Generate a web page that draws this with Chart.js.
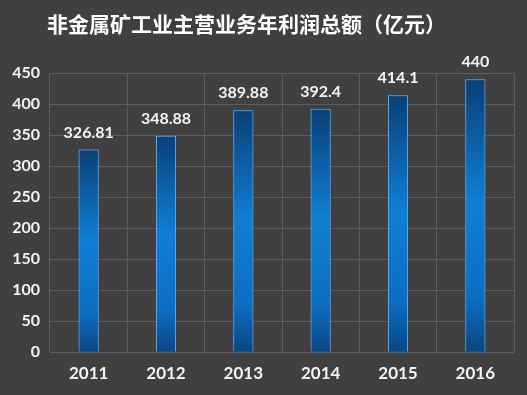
<!DOCTYPE html>
<html>
<head>
<meta charset="utf-8">
<script src="https://cdn.jsdelivr.net/npm/chart.js@4/dist/chart.umd.min.js"></script>
<style>
  html, body { margin: 0; padding: 0; background: #404040; }
  #wrap { width: 527px; height: 395px; position: relative; }
</style>
</head>
<body>
<div id="wrap"><canvas id="chart"></canvas></div>
<script>
// data
const chartTitle = '非金属矿工业主营业务年利润总额（亿元）';
const years = ['2011', '2012', '2013', '2014', '2015', '2016'];
const profits = [326.81, 348.88, 389.88, 392.4, 414.1, 440];
const yTicks = [0, 50, 100, 150, 200, 250, 300, 350, 400, 450];

const textColor = '#f4f4f4';
const gridColor = '#5c5c5c';

// per-bar vertical gradient, dark at the ends and bright in the middle
function barFill(ctx) {
  const chart = ctx.chart;
  if (!chart.chartArea || ctx.parsed == null) return '#0a6cc0';
  const y = chart.scales.y;
  const top = y.getPixelForValue(ctx.parsed.y);
  const bottom = y.getPixelForValue(0);
  const g = chart.ctx.createLinearGradient(0, top, 0, bottom);
  g.addColorStop(0, '#0b3f76');
  g.addColorStop(0.45, '#0f7fd6');
  g.addColorStop(0.8, '#0c6ec4');
  g.addColorStop(1, '#0a4681');
  return g;
}

const glowPlugin = {
  id: 'glow',
  beforeDatasetsDraw(chart) {
    const c = chart.ctx;
    c.save();
    c.shadowColor = 'rgba(60,150,240,0.85)';
    c.shadowBlur = 9;
  },
  afterDatasetsDraw(chart) {
    chart.ctx.restore();
  }
};

const labelsPlugin = {
  id: 'valueLabels',
  afterDatasetsDraw(chart) {
    const c = chart.ctx;
    const meta = chart.getDatasetMeta(0);
    c.save();
    c.fillStyle = textColor;
    c.font = 'bold 16px Lato, "Open Sans", sans-serif';
    c.textAlign = 'center';
    c.textBaseline = 'middle';
    meta.data.forEach((bar, i) => {
      c.fillText(String(profits[i]), bar.x, bar.y - 17);
    });
    c.restore();
  }
};

const titlePlugin = {
  id: 'leftTitle',
  afterDraw(chart) {
    const c = chart.ctx;
    c.save();
    c.fillStyle = '#ffffff';
    c.font = 'bold 21px "Noto Sans CJK SC", sans-serif';
    c.textAlign = 'left';
    c.textBaseline = 'middle';
    c.fillText(chartTitle, 47, 24);
    c.restore();
  }
};

new Chart(document.getElementById('chart'), {
  type: 'bar',
  data: {
    labels: years,
    datasets: [{
      data: profits,
      backgroundColor: barFill,
      borderColor: '#6fb4ef',
      borderWidth: 1,
      barPercentage: 0.26,
      categoryPercentage: 1
    }]
  },
  options: {
    responsive: true,
    maintainAspectRatio: false,
    animation: false,
    layout: { padding: { top: 73, right: 13, left: 0, bottom: 0 } },
    plugins: {
      legend: { display: false },
      title: { display: false },
      tooltip: { enabled: false }
    },
    scales: {
      x: {
        offset: true,
        grid: { color: gridColor, offset: true, drawTicks: false },
        border: { display: false },
        ticks: {
          color: textColor,
          font: { family: 'Lato, "Open Sans", sans-serif', size: 17, weight: 'bold' },
          padding: 11
        },
        afterFit(scale) { scale.height = 43; }
      },
      y: {
        min: 0,
        max: 450,
        afterBuildTicks(scale) { scale.ticks = yTicks.map(v => ({ value: v })); },
        grid: { color: gridColor, drawTicks: false },
        border: { display: false },
        ticks: {
          color: textColor,
          font: { family: 'Lato, "Open Sans", sans-serif', size: 16, weight: 'bold' },
          padding: 10
        },
        afterFit(scale) { scale.width = 50; }
      }
    }
  },
  plugins: [glowPlugin, labelsPlugin, titlePlugin]
});
</script>
</body>
</html>
